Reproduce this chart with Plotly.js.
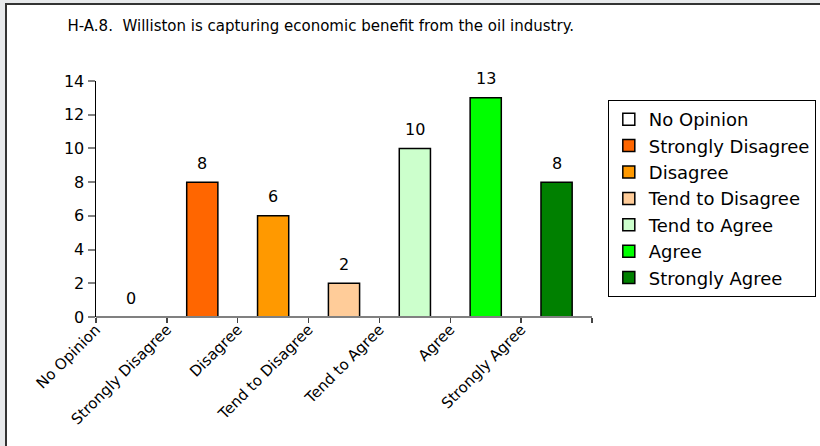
<!DOCTYPE html>
<html>
<head>
<meta charset="utf-8">
<script src="https://cdn.plot.ly/plotly-3.0.1.min.js"></script>
<style>
  html, body { margin: 0; padding: 0; background: #e7e9eb; width: 820px; height: 446px; overflow: hidden; }
  #frame { position: absolute; left: 5px; top: 3px; width: 815px; height: 443px; border-left: 2px solid #333; border-top: 2px solid #333; background: #fff; }
  #chart { width: 813px; height: 441px; }
</style>
</head>
<body>
<div id="frame"><div id="chart"></div></div>
<script>
const chartTitle = 'H-A.8.  Williston is capturing economic benefit from the oil industry.';
const categories = ['No Opinion', 'Strongly Disagree', 'Disagree', 'Tend to Disagree', 'Tend to Agree', 'Agree', 'Strongly Agree'];
const values = [0, 8, 6, 2, 10, 13, 8];
const colors = ['#FFFFFF', '#FF6600', '#FF9900', '#FFCC99', '#CCFFCC', '#00FF00', '#008000'];
const yTicks = [0, 2, 4, 6, 8, 10, 12, 14];

const FONT = 'DejaVu Sans, Liberation Sans, Arial, sans-serif';

const traces = categories.map((c, i) => ({
  type: 'bar',
  name: c,
  x: [i],
  y: [values[i]],
  width: 0.44,
  marker: { color: colors[i], line: { color: '#000', width: 1.5 } },
  hoverinfo: 'name+y'
}));

const annotations = categories.map((c, i) => ({
  x: i, y: values[i], xref: 'x', yref: 'y',
  text: String(values[i]), showarrow: false,
  yanchor: 'middle', yshift: 19,
  font: { family: FONT, size: 16, color: '#000' }
}));

const tickvals = categories.map((c, i) => i - 0.5).concat([categories.length - 0.5]);
const ticktext = categories.concat(['']);

const layout = {
  width: 813, height: 441,
  margin: { l: 88.5, r: 228.3, t: 75.7, b: 129.3, pad: 0, autoexpand: false },
  paper_bgcolor: '#fff', plot_bgcolor: '#fff',
  font: { family: FONT, size: 16, color: '#000' },
  title: {
    text: chartTitle, x: 0.386, xanchor: 'center', xref: 'container',
    y: 0.952, yanchor: 'middle', yref: 'container',
    font: { family: FONT, size: 15, color: '#000' }
  },
  barmode: 'overlay',
  showlegend: true,
  legend: {
    xref: 'container', yref: 'container',
    x: 0.739, xanchor: 'left', y: 0.7846, yanchor: 'top',
    bordercolor: '#000', borderwidth: 1, bgcolor: '#fff',
    font: { family: FONT, size: 18, color: '#000' },
    traceorder: 'normal', itemclick: false
  },
  xaxis: {
    range: [-0.5, categories.length - 0.5],
    tickmode: 'array', tickvals: tickvals, ticktext: ticktext,
    tickangle: -45, ticks: 'outside', ticklen: 5, tickwidth: 1.5, tickcolor: '#444',
    ticklabelstandoff: -8,
    showline: false,
    showgrid: false, zeroline: false, fixedrange: true,
    tickfont: { family: FONT, size: 15, color: '#000' }
  },
  yaxis: {
    range: [0, 14], tickmode: 'array', tickvals: yTicks,
    ticks: 'outside', ticklen: 7, tickwidth: 2, tickcolor: '#808080',
    showline: true, linecolor: '#000', linewidth: 1.5,
    zeroline: true, zerolinecolor: '#808080', zerolinewidth: 2.5,
    zerolinelayer: 'above traces',
    layer: 'above traces',
    showgrid: false, fixedrange: true,
    tickfont: { family: FONT, size: 16, color: '#000' }
  },
  annotations: annotations
};

Plotly.newPlot('chart', traces, layout, { displayModeBar: false, staticPlot: true });
</script>
</body>
</html>
